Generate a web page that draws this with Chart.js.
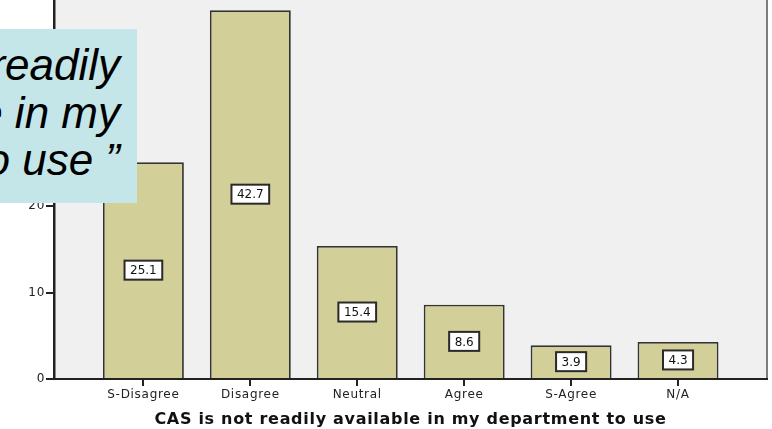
<!DOCTYPE html>
<html>
<head>
<meta charset="utf-8">
<script src="https://cdn.jsdelivr.net/npm/chart.js@4"></script>
<style>
  html, body { margin: 0; padding: 0; background: #fff; }
  #wrap { position: relative; width: 772px; height: 429px; }
  #quote {
    position: absolute; left: 0; top: 29px; width: 137px; height: 174px;
    background: #c5e6e8; overflow: hidden;
    font-family: "Liberation Sans", Arial, sans-serif; font-style: italic;
    font-size: 44px; color: #000;
  }
  #quote span { position: absolute; right: 17px; white-space: nowrap; line-height: 48px; }
</style>
</head>
<body>
<div id="wrap">
  <canvas id="myChart" width="772" height="429"></canvas>
  <div id="quote">
    <span style="top:12px">“CAS is not readily</span>
    <span style="top:60px">available in my</span>
    <span style="top:107px">department to use ”</span>
  </div>
</div>
<script>
// data (percent)
var categories = ["S-Disagree", "Disagree", "Neutral", "Agree", "S-Agree", "N/A"];
var percents = [25.1, 42.7, 15.4, 8.6, 3.9, 4.3];
var yTicks = [0, 10, 20];   // 30 and 40 sit under the quote box
var axisTitle = "CAS is not readily available in my department to use";

var points = [];
for (var i = 0; i < categories.length; i++) {
    points.push({ x: i, y: percents[i] });
}

// grey plot background + right border, and the wide letter spacing of the original
const plotBg = {
    id: 'plotBg',
    beforeInit(chart) {
        chart.ctx.letterSpacing = '0.7px';
    },
    beforeDraw(chart) {
        const a = chart.chartArea, c = chart.ctx;
        c.letterSpacing = '0.7px';
        c.save();
        c.fillStyle = '#f0f0f0';
        c.fillRect(a.left, a.top, a.right - a.left, a.bottom - a.top);
        c.strokeStyle = '#555';
        c.lineWidth = 1.5;
        c.beginPath();
        c.moveTo(a.right, a.top);
        c.lineTo(a.right, a.bottom);
        c.stroke();
        c.restore();
    }
};

// white value boxes in the middle of each bar
const valueBoxes = {
    id: 'valueBoxes',
    afterDatasetsDraw(chart) {
        const c = chart.ctx;
        const meta = chart.getDatasetMeta(0);
        c.save();
        c.letterSpacing = '0px';
        c.font = '12px "DejaVu Sans", sans-serif';
        c.textAlign = 'center';
        c.textBaseline = 'middle';
        meta.data.forEach(function (bar, i) {
            var txt = percents[i].toFixed(1);
            var w = c.measureText(txt).width + 11;
            var h = 19;
            var cy = (bar.y + bar.base) / 2;
            c.fillStyle = '#fff';
            c.fillRect(bar.x - w / 2, cy - h / 2, w, h);
            c.strokeStyle = '#2a2a2a';
            c.lineWidth = 2;
            c.strokeRect(bar.x - w / 2, cy - h / 2, w, h);
            c.fillStyle = '#111';
            c.fillText(txt, bar.x, cy + 1);
        });
        c.restore();
    }
};

const ctx = document.getElementById('myChart');

new Chart(ctx, {
    type: 'bar',
    data: {
        datasets: [{
            data: points,
            backgroundColor: '#d3cf98',
            borderColor: '#333',
            borderWidth: 1.8,
            categoryPercentage: 1,
            barPercentage: 0.757
        }]
    },
    plugins: [plotBg, valueBoxes],
    options: {
        responsive: false,
        animation: false,
        layout: { padding: { top: 0, right: 5, left: 0, bottom: 0 } },
        plugins: { legend: { display: false }, tooltip: { enabled: false } },
        scales: {
            x: {
                type: 'linear',
                offset: false,
                min: -0.836,
                max: 5.832,
                afterBuildTicks: (s) => { s.ticks = categories.map((c, i) => ({ value: i })); },
                afterFit: (s) => { s.height = 50; s.paddingLeft = 0; s.paddingRight = 0; },
                ticks: {
                    callback: (v) => categories[v],
                    color: '#222',
                    font: { family: '"DejaVu Sans"', size: 12 },
                    padding: 2,
                    maxRotation: 0,
                    autoSkip: false
                },
                grid: { offset: false, drawOnChartArea: false, drawTicks: true, tickLength: 7, color: '#222', lineWidth: 2 },
                border: { display: true, color: '#222', width: 2 },
                title: {
                    display: true,
                    text: axisTitle,
                    color: '#111',
                    font: { family: '"DejaVu Sans"', size: 16, weight: 'bold' },
                    padding: { top: 0, bottom: 0 }
                }
            },
            y: {
                min: 0,
                max: 43.9,
                afterBuildTicks: (s) => { s.ticks = yTicks.map((v) => ({ value: v })); },
                afterFit: (s) => { s.width = 54; s.paddingTop = 0; s.paddingBottom = 0; },
                ticks: {
                    color: '#222',
                    font: { family: '"DejaVu Sans"', size: 12 },
                    padding: 1
                },
                grid: { drawOnChartArea: false, drawTicks: true, tickLength: 8, color: '#222', lineWidth: 2 },
                border: { display: true, color: '#222', width: 2.5 }
            }
        }
    }
});
</script>
</body>
</html>
